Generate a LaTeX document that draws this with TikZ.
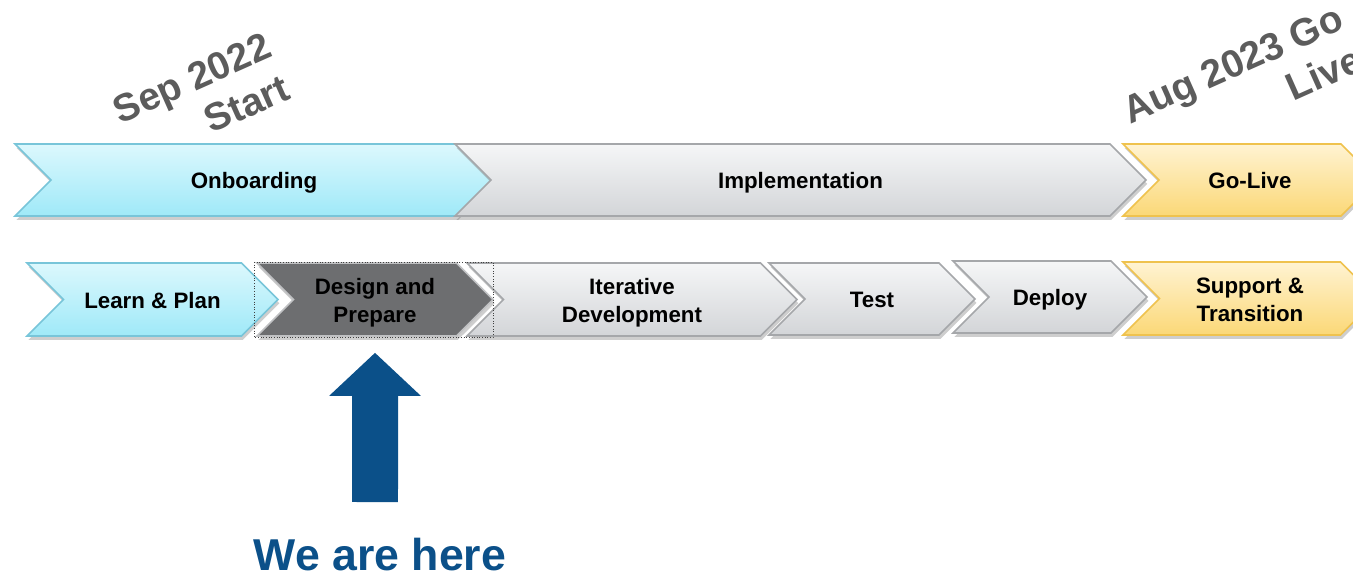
\documentclass[tikz,border=0pt]{standalone}
\usepackage{fontspec}
\setmainfont{Liberation Sans}
\usepackage{xcolor}
\usetikzlibrary{shapes.symbols, shadows, arrows.meta}

\definecolor{aquaTop}{HTML}{DCF8FD}
\definecolor{aquaBot}{HTML}{9FE9F8}
\definecolor{aquaLine}{HTML}{78C5D9}
\definecolor{greyTop}{HTML}{F5F6F7}
\definecolor{greyBot}{HTML}{D3D5D8}
\definecolor{greyLine}{HTML}{A5A7AA}
\definecolor{goldTop}{HTML}{FFF3D2}
\definecolor{goldBot}{HTML}{FBD877}
\definecolor{goldLine}{HTML}{EFC24E}
\definecolor{slate}{HTML}{6D6E70}
\definecolor{navy}{HTML}{0B5089}
\definecolor{stamp}{HTML}{5C5C5C}

\tikzset{
  phase/.style={signal, signal from=west, signal to=east, draw, line width=0.9pt,
    inner sep=2pt, align=center, font=\fontsize{12.7pt}{15.4pt}\selectfont\bfseries,
    text height=12pt, text depth=1.76pt,
    drop shadow={shadow xshift=0.8pt, shadow yshift=-2.2pt, opacity=.35, fill=black!55}},
  twoline/.style={text height=27.4pt},
  onboard/.style={phase, draw=aquaLine, top color=aquaTop, bottom color=aquaBot},
  build/.style={phase, draw=greyLine, top color=greyTop, bottom color=greyBot},
  golive/.style={phase, draw=goldLine, top color=goldTop, bottom color=goldBot},
  current/.style={phase, draw=greyLine!70, fill=slate},
  milestone/.style={text=stamp, rotate=24, align=right, font=\fontsize{22pt}{26pt}\selectfont\bfseries},
  selbox/.style={draw=black!75, densely dotted, line width=0.5pt},
  pointer/.style={navy, line width=0.92cm, -{Triangle[length=0.86cm, width=1.78cm]}},
}

\begin{document}
\begin{tikzpicture}[x=0.02cm, y=-0.02cm]
  \useasboundingbox[fill=white] (0,0) rectangle (1353,574);

  % top row: overall phases
  \node[onboard, minimum width=9.56cm, minimum height=1.44cm] (onb) at (254,180) {Onboarding};
  \node[build, minimum width=13.82cm, minimum height=1.44cm] (impl) at (800.5,180) {Implementation};
  \node[golive, minimum width=5.08cm, minimum height=1.44cm] (live) at (1250,180) {Go-Live};

  % bottom row: steps
  \node[onboard, minimum width=5.02cm, minimum height=1.46cm] (learn) at (152.5,299.5) {Learn \& Plan};
  \node[current, twoline, minimum width=4.72cm, minimum height=1.46cm] (design) at (375,299.5) {Design and\\ Prepare};
  \node[build, twoline, minimum width=6.6cm, minimum height=1.46cm] (iter) at (632,299.5) {Iterative\\ Development};
  \node[build, minimum width=4.12cm, minimum height=1.44cm] (test) at (872,299) {Test};
  \node[build, minimum width=3.88cm, minimum height=1.44cm] (deploy) at (1050,297) {Deploy};
  \node[golive, twoline, minimum width=5.08cm, minimum height=1.46cm] (support) at (1250,298.5) {Support \&\\ Transition};
  \draw[selbox] ([shift={(-121,-37.5)}]design.center) rectangle ([shift={(118,37.5)}]design.center);

  % dates
  \node[milestone] (start) at (201,99) {Sep 2022\\ Start};
  \node[milestone] (end) at (1242,85) {Aug 2023 Go\\ Live};

  % where we are now
  \node[text=navy, anchor=base, font=\fontsize{25.4pt}{30pt}\selectfont\bfseries] (here) at (380,570) {We are here};
  \coordinate (tail) at (375,502);
  \draw[pointer, shorten >=0.32cm] (tail) -- (design);
\end{tikzpicture}
\end{document}
